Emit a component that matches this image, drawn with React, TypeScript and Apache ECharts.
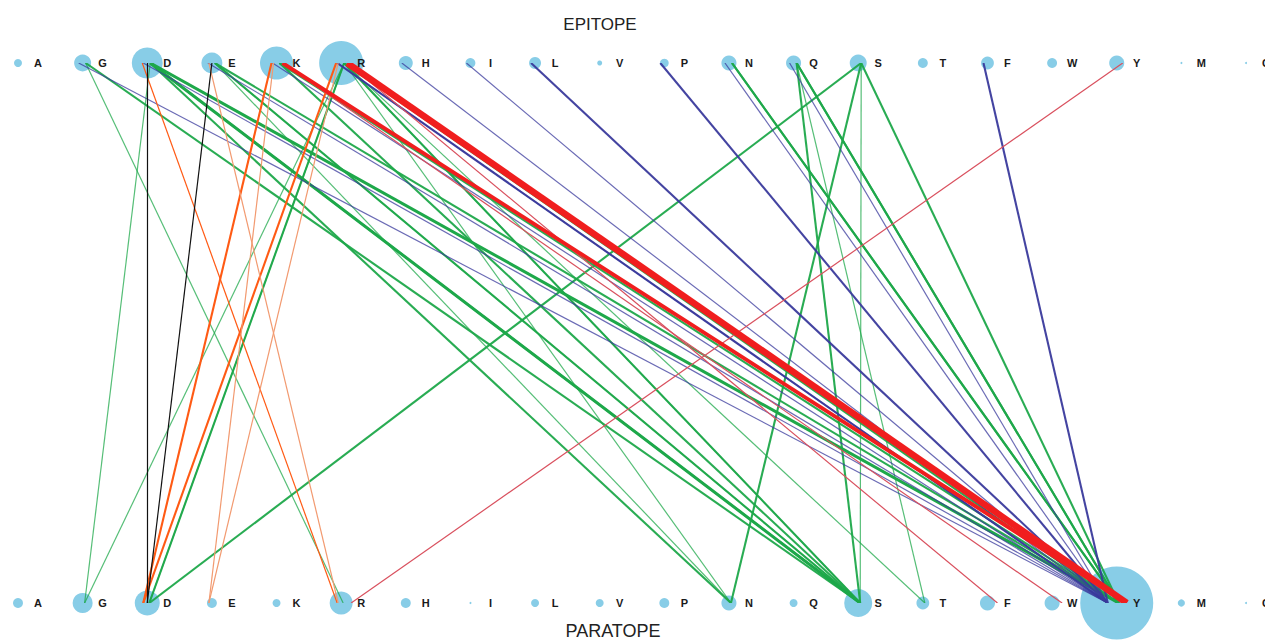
import React, { useEffect, useRef } from "react";
import * as echarts from "echarts";

// Amino-acid residues along both axes (left to right)
const residues = ["A", "G", "D", "E", "K", "R", "H", "I", "L", "V", "P", "N", "Q", "S", "T", "F", "W", "Y", "M", "C"];

// Residue frequencies (circle area) in the epitope (top) and paratope (bottom)
const epitopeCounts = [4, 25, 93, 40, 107, 196, 16, 7, 11, 1, 5, 19, 19, 25, 7, 13, 7, 19, 0, 0];
const paratopeCounts = [7, 36, 59, 7, 4, 49, 7, 0, 4, 4, 7, 19, 4, 75, 13, 19, 19, 560, 3, 0];

// Contacts: [epitope residue, paratope residue, count]
const hbondLinks: [string, string, number][] = [
  ["D", "G", 1], ["R", "G", 1], ["R", "D", 2], ["R", "D", 1], ["S", "D", 2],
  ["G", "R", 1], ["D", "N", 2], ["E", "N", 1], ["R", "N", 1], ["S", "N", 2],
  ["G", "S", 2], ["D", "S", 3], ["D", "S", 2], ["E", "S", 2], ["E", "S", 1],
  ["K", "S", 2], ["R", "S", 2], ["R", "S", 1], ["Q", "S", 2], ["S", "S", 1],
  ["R", "T", 1], ["Q", "T", 1],
  ["D", "Y", 3], ["E", "Y", 2], ["K", "Y", 2], ["R", "Y", 2], ["N", "Y", 2],
  ["N", "Y", 2], ["Q", "Y", 2], ["Q", "Y", 2], ["S", "Y", 2],
];
const hydrophobicLinks: [string, string, number][] = [
  ["G", "Y", 1], ["D", "Y", 1], ["E", "Y", 1], ["K", "Y", 1], ["R", "Y", 2],
  ["R", "Y", 1], ["H", "Y", 1], ["I", "Y", 1], ["L", "Y", 2], ["P", "Y", 2],
  ["N", "Y", 1], ["Q", "Y", 1], ["F", "Y", 2],
];
const cationPiLinks: [string, string, number][] = [
  ["R", "Y", 7], ["K", "Y", 4],
];
const saltBridgeLinks: [string, string, number][] = [
  ["K", "D", 2], ["R", "D", 2], ["D", "R", 1],
];
const weakIonicLinks: [string, string, number][] = [
  ["K", "E", 1], ["R", "E", 1], ["E", "R", 1],
];
const covalentLinks: [string, string, number][] = [
  ["D", "D", 1], ["E", "D", 1],
];
const piStackLinks: [string, string, number][] = [
  ["Y", "R", 1], ["R", "F", 1], ["K", "W", 1],
];

const FONT = "'Liberation Sans', Arial, Helvetica, sans-serif";
const W = 1265;
const H = 642;
const GRID = { left: 18, right: 19, top: 63, bottom: 39 };
const UNIT = (W - GRID.left - GRID.right) / (residues.length - 1);

const diameter = (n: number) => 2 + 3 * Math.sqrt(n);

export default function App() {
  const ref = useRef<HTMLDivElement>(null);
  useEffect(() => {
    if (!ref.current) return;
    const chart = echarts.init(ref.current, undefined, { renderer: "svg" });

    const idx = (r: string) => residues.indexOf(r);
    const makeLines = (
      name: string,
      links: [string, string, number][],
      color: string,
      topOff: number,
      botOff: number,
      z: number,
      fade = true
    ) => ({
      type: "lines",
      name,
      coordinateSystem: "cartesian2d",
      polyline: false,
      silent: true,
      z,
      symbol: "none",
      data: links.map(([e, p, n]) => ({
        coords: [
          [idx(e) + topOff / UNIT, 1],
          [idx(p) + botOff / UNIT, 0],
        ],
        lineStyle: {
          color,
          width: 0.3 + 0.9 * n,
          opacity: fade ? Math.min(1, 0.55 + 0.2 * n) : 1,
        },
      })),
    });

    const circle = (counts: number[], y: number) => ({
      type: "scatter",
      z: 1,
      silent: true,
      data: counts.map((c, i) => ({ value: [i, y], symbolSize: diameter(c) })),
      itemStyle: { color: "#88cde7", opacity: 1 },
      label: {
        show: true,
        position: "inside",
        offset: [20, 0],
        formatter: (p: any) => residues[p.dataIndex],
        color: "#1a1a1a",
        fontSize: 11,
        fontWeight: "bold",
        fontFamily: FONT,
      },
    });

    chart.setOption({
      animation: false,
      backgroundColor: "#ffffff",
      grid: GRID,
      xAxis: { type: "value", min: 0, max: residues.length - 1, show: false },
      yAxis: { type: "value", min: 0, max: 1, show: false },
      graphic: [
        {
          type: "text",
          x: 600,
          y: 24,
          style: { text: "EPITOPE", fontSize: 17, fill: "#222", align: "center", verticalAlign: "middle", fontFamily: FONT },
        },
        {
          type: "text",
          x: 613,
          y: 631,
          style: { text: "PARATOPE", fontSize: 18, fill: "#222", align: "center", verticalAlign: "middle", fontFamily: FONT },
        },
      ],
      series: [
        circle(epitopeCounts, 1),
        circle(paratopeCounts, 0),
        makeLines("Hydrogen bond", hbondLinks, "#1ea84a", 3, 2, 3),
        makeLines("Hydrophobic", hydrophobicLinks, "#3a3a9c", -4, -9, 4),
        makeLines("Salt bridge", saltBridgeLinks, "#ff5a14", -5, -4, 5, false),
        makeLines("Weak ionic", weakIonicLinks, "#f29a70", -3, -3, 5, false),
        makeLines("Covalent", covalentLinks, "#111111", 0, 0, 6, false),
        makeLines("Pi stacking", piStackLinks, "#d9505e", 6, 10, 6, false),
        makeLines("Cation-pi", cationPiLinks, "#f01e1e", 6, 10, 7, false),
      ],
    });
    return () => chart.dispose();
  }, []);
  return (
    <div
      ref={ref}
      style={{ position: "fixed", left: 0, top: 0, width: W, height: H, background: "#fff" }}
    />
  );
}
